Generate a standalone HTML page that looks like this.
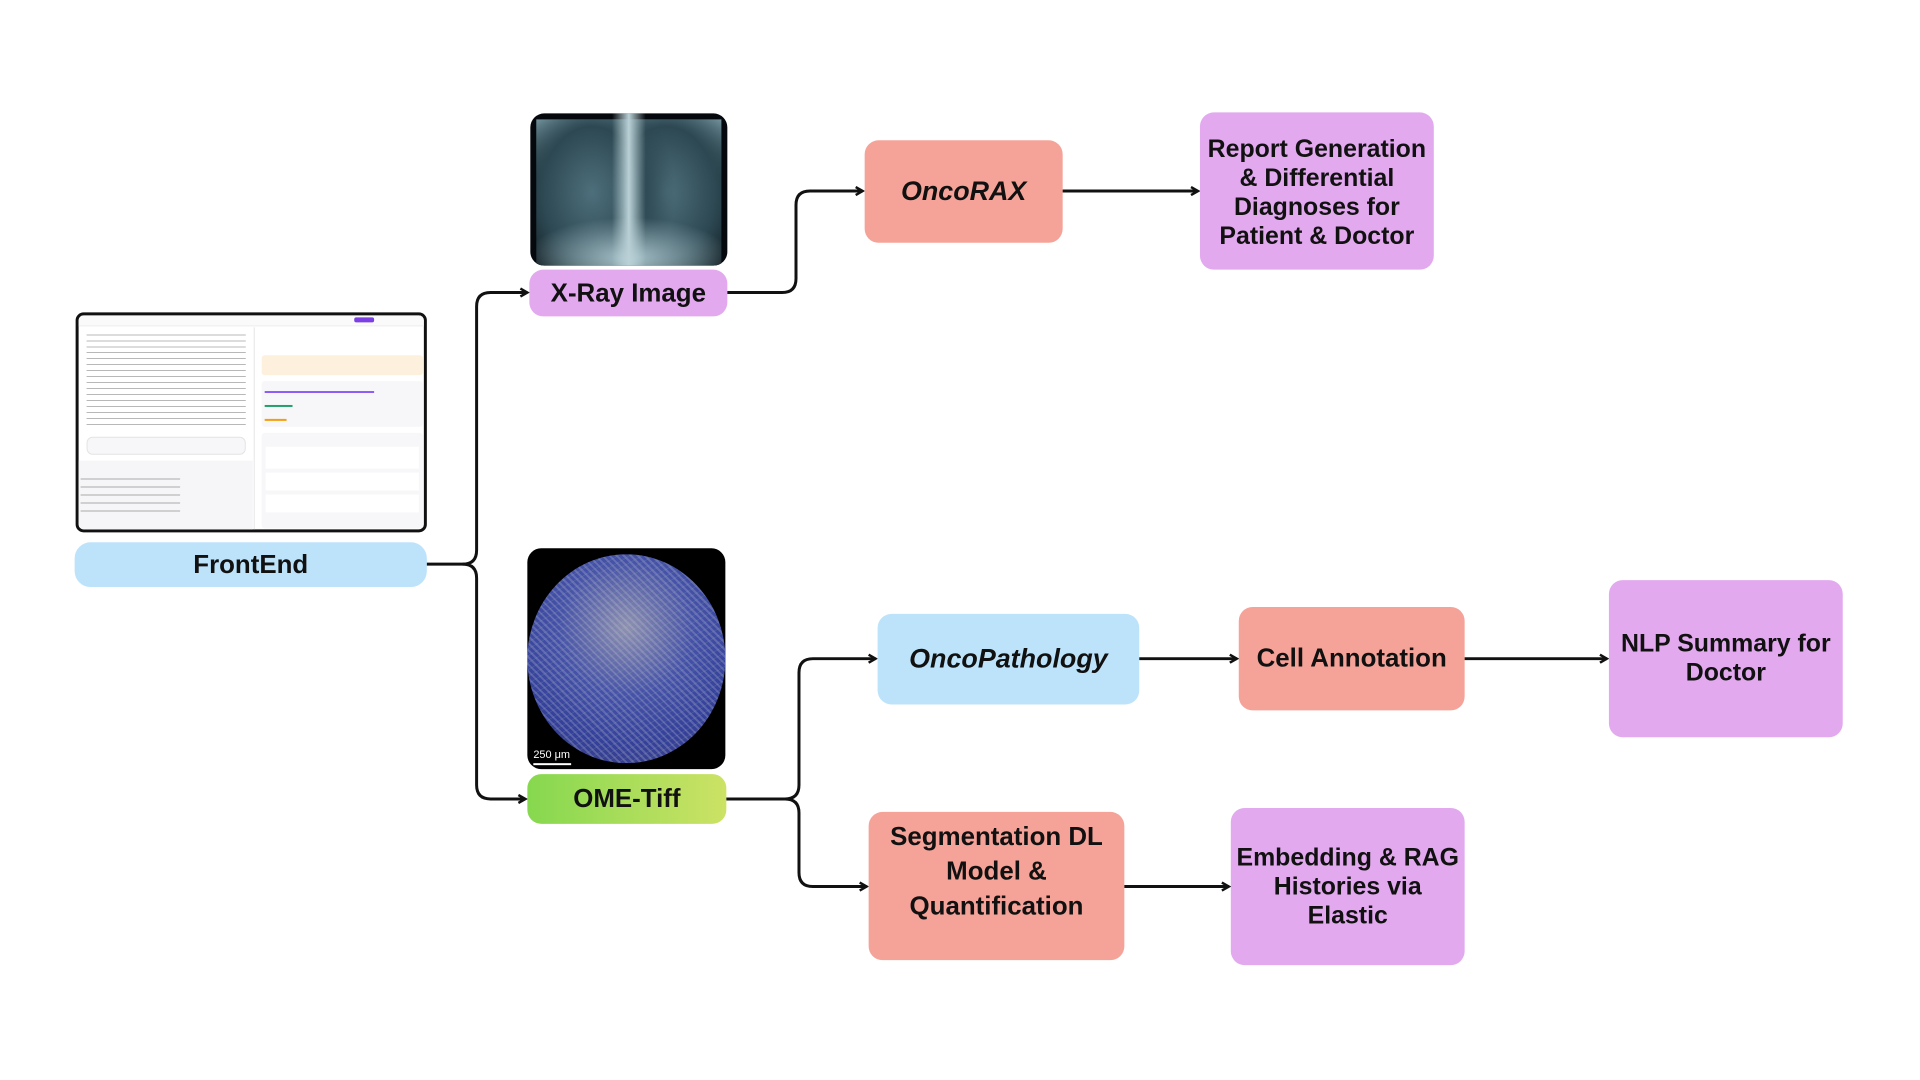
<!DOCTYPE html>
<html><head><meta charset="utf-8"><style>
body{margin:0;width:1920px;height:1080px;background:#fff;position:relative;overflow:hidden;font-family:"Liberation Sans",sans-serif}
#w{position:absolute;left:0;top:0;width:1920px;height:1080px;transform:scale(0.995);transform-origin:0 0}
.b{position:absolute;display:flex;align-items:center;justify-content:center;text-align:center;font-weight:bold;color:#111;box-sizing:border-box;line-height:1.2}
.blue{background:#bde3fb}.pink{background:#f5a398}.purp{background:#e2a9ef}
svg{position:absolute;left:0;top:0}
</style></head><body><div id="w">
<!-- FrontEnd screenshot -->
<div style="position:absolute;left:76px;top:314px;width:353px;height:221px;border:3px solid #111;border-radius:8px;box-sizing:border-box;background:#fff;overflow:hidden">
 <div style="position:absolute;left:0;top:0;width:100%;height:10px;border-bottom:1px solid #eee;background:#fafafa"></div>
 <div style="position:absolute;left:277px;top:2px;width:20px;height:5px;background:#7b3fe4;border-radius:2px"></div>
 <div style="position:absolute;left:176px;top:12px;width:1px;height:210px;background:#e6e6e6"></div>
 <div style="position:absolute;left:8px;top:16px;width:160px;height:96px;background:repeating-linear-gradient(#fff 0 3px,#b8b8b8 3px 4px,#fff 4px 6px)"></div>
 <div style="position:absolute;left:8px;top:122px;width:158px;height:16px;border:1px solid #e4e4e4;border-radius:6px;background:#f7f7f9"></div>
 <div style="position:absolute;left:0;top:146px;width:175px;height:72px;background:#f6f6f8"></div>
 <div style="position:absolute;left:2px;top:160px;width:100px;height:44px;background:repeating-linear-gradient(#f6f6f8 0 4px,#aaa 4px 5px,#f6f6f8 5px 8px)"></div>
 <div style="position:absolute;left:184px;top:40px;width:162px;height:20px;background:#fdf0dc;border-radius:3px"></div>
 <div style="position:absolute;left:184px;top:66px;width:162px;height:46px;background:#f7f7f9;border-radius:3px"></div>
 <div style="position:absolute;left:187px;top:76px;width:110px;height:2px;background:#8b5cf6"></div>
 <div style="position:absolute;left:187px;top:90px;width:28px;height:2px;background:#22a06b"></div>
 <div style="position:absolute;left:187px;top:104px;width:22px;height:2px;background:#f59e0b"></div>
 <div style="position:absolute;left:184px;top:118px;width:162px;height:96px;background:#f7f7f9;border-radius:3px"></div>
 <div style="position:absolute;left:188px;top:132px;width:154px;height:22px;background:#fff"></div>
 <div style="position:absolute;left:188px;top:158px;width:154px;height:18px;background:#fff"></div>
 <div style="position:absolute;left:188px;top:180px;width:154px;height:18px;background:#fff"></div>
</div>
<div class="b blue" style="left:75px;top:545px;width:354px;height:45px;border-radius:16px;font-size:26px">FrontEnd</div>

<!-- X-ray -->
<div style="position:absolute;left:533px;top:114px;width:198px;height:153px;border-radius:14px;background:#05080c;overflow:hidden">
 <div style="position:absolute;left:6px;top:6px;width:186px;height:147px;background:radial-gradient(ellipse 70% 35% at 50% 95%,#a9c4cc 0%,transparent 80%),radial-gradient(ellipse 45% 75% at 30% 50%,#4d6f7b 0%,#2d4852 60%,transparent 100%),radial-gradient(ellipse 45% 75% at 70% 50%,#4d6f7b 0%,#2d4852 60%,transparent 100%),linear-gradient(180deg,#7fa0aa,#1a2b33 40%,#0a1216)"></div>
 <div style="position:absolute;left:82px;top:0;width:34px;height:153px;background:linear-gradient(90deg,transparent,#b9d0d6,transparent)"></div>
</div>
<div class="b purp" style="left:532px;top:271px;width:199px;height:47px;border-radius:14px;font-size:26px">X-Ray Image</div>

<!-- OME -->
<div style="position:absolute;left:530px;top:551px;width:199px;height:222px;border-radius:14px;background:#000;overflow:hidden">
 <div style="position:absolute;left:0;top:6px;width:199px;height:210px;border-radius:50%;background:repeating-linear-gradient(45deg,rgba(200,200,220,.25) 0 2px,transparent 2px 5px),repeating-linear-gradient(-30deg,rgba(120,200,140,.15) 0 1px,transparent 1px 6px),radial-gradient(circle at 50% 35%,#8e90b0 0%,#4652a8 40%,#35409a 70%,#3d4080 100%)"></div>
 <div style="position:absolute;left:6px;top:202px;color:#fff;font-size:11px">250 μm</div>
 <div style="position:absolute;left:6px;top:216px;width:38px;height:2px;background:#fff"></div>
</div>
<div class="b" style="left:530px;top:778px;width:200px;height:50px;border-radius:14px;font-size:26px;background:linear-gradient(90deg,#86d84f,#cce265)">OME-Tiff</div>

<div class="b pink" style="left:869px;top:141px;width:199px;height:103px;border-radius:14px;font-size:27px;font-style:italic">OncoRAX</div>
<div class="b purp" style="left:1206px;top:113px;width:235px;height:158px;border-radius:14px;font-size:25px;line-height:29px;padding-top:4px">Report Generation<br>&amp; Differential<br>Diagnoses for<br>Patient &amp; Doctor</div>
<div class="b blue" style="left:882px;top:617px;width:263px;height:91px;border-radius:14px;font-size:27px;font-style:italic">OncoPathology</div>
<div class="b pink" style="left:1245px;top:610px;width:227px;height:104px;border-radius:14px;font-size:26px">Cell Annotation</div>
<div class="b purp" style="left:1617px;top:583px;width:235px;height:158px;border-radius:14px;font-size:25px;line-height:29px">NLP Summary for<br>Doctor</div>
<div class="b pink" style="left:873px;top:816px;width:257px;height:149px;border-radius:14px;font-size:26px;line-height:35px;padding-bottom:30px">Segmentation DL<br>Model &amp;<br>Quantification</div>
<div class="b purp" style="left:1237px;top:812px;width:235px;height:158px;border-radius:14px;font-size:25px;line-height:29px">Embedding &amp; RAG<br>Histories via<br>Elastic</div>

<svg width="1920" height="1080" viewBox="0 0 1920 1080">
<defs><marker id="a" markerWidth="10" markerHeight="10" refX="8" refY="5" orient="auto" markerUnits="userSpaceOnUse"><path d="M1,1 L8,5 L1,9" fill="none" stroke="#111" stroke-width="2.5"/></marker></defs>
<g fill="none" stroke="#111" stroke-width="3">
<path d="M429,567 H465 Q479,567 479,553 V308 Q479,294 493,294 H530" marker-end="url(#a)"/>
<path d="M465,567 Q479,567 479,581 V789 Q479,803 493,803 H528" marker-end="url(#a)"/>
<path d="M731,294 H786 Q800,294 800,280 V206 Q800,192 814,192 H867" marker-end="url(#a)"/>
<path d="M1068,192 H1204" marker-end="url(#a)"/>
<path d="M730,803 H789 Q803,803 803,789 V676 Q803,662 817,662 H880" marker-end="url(#a)"/>
<path d="M789,803 Q803,803 803,817 V877 Q803,891 817,891 H871" marker-end="url(#a)"/>
<path d="M1145,662 H1243" marker-end="url(#a)"/>
<path d="M1472,662 H1615" marker-end="url(#a)"/>
<path d="M1130,891 H1235" marker-end="url(#a)"/>
</g></svg>
</div></body></html>
